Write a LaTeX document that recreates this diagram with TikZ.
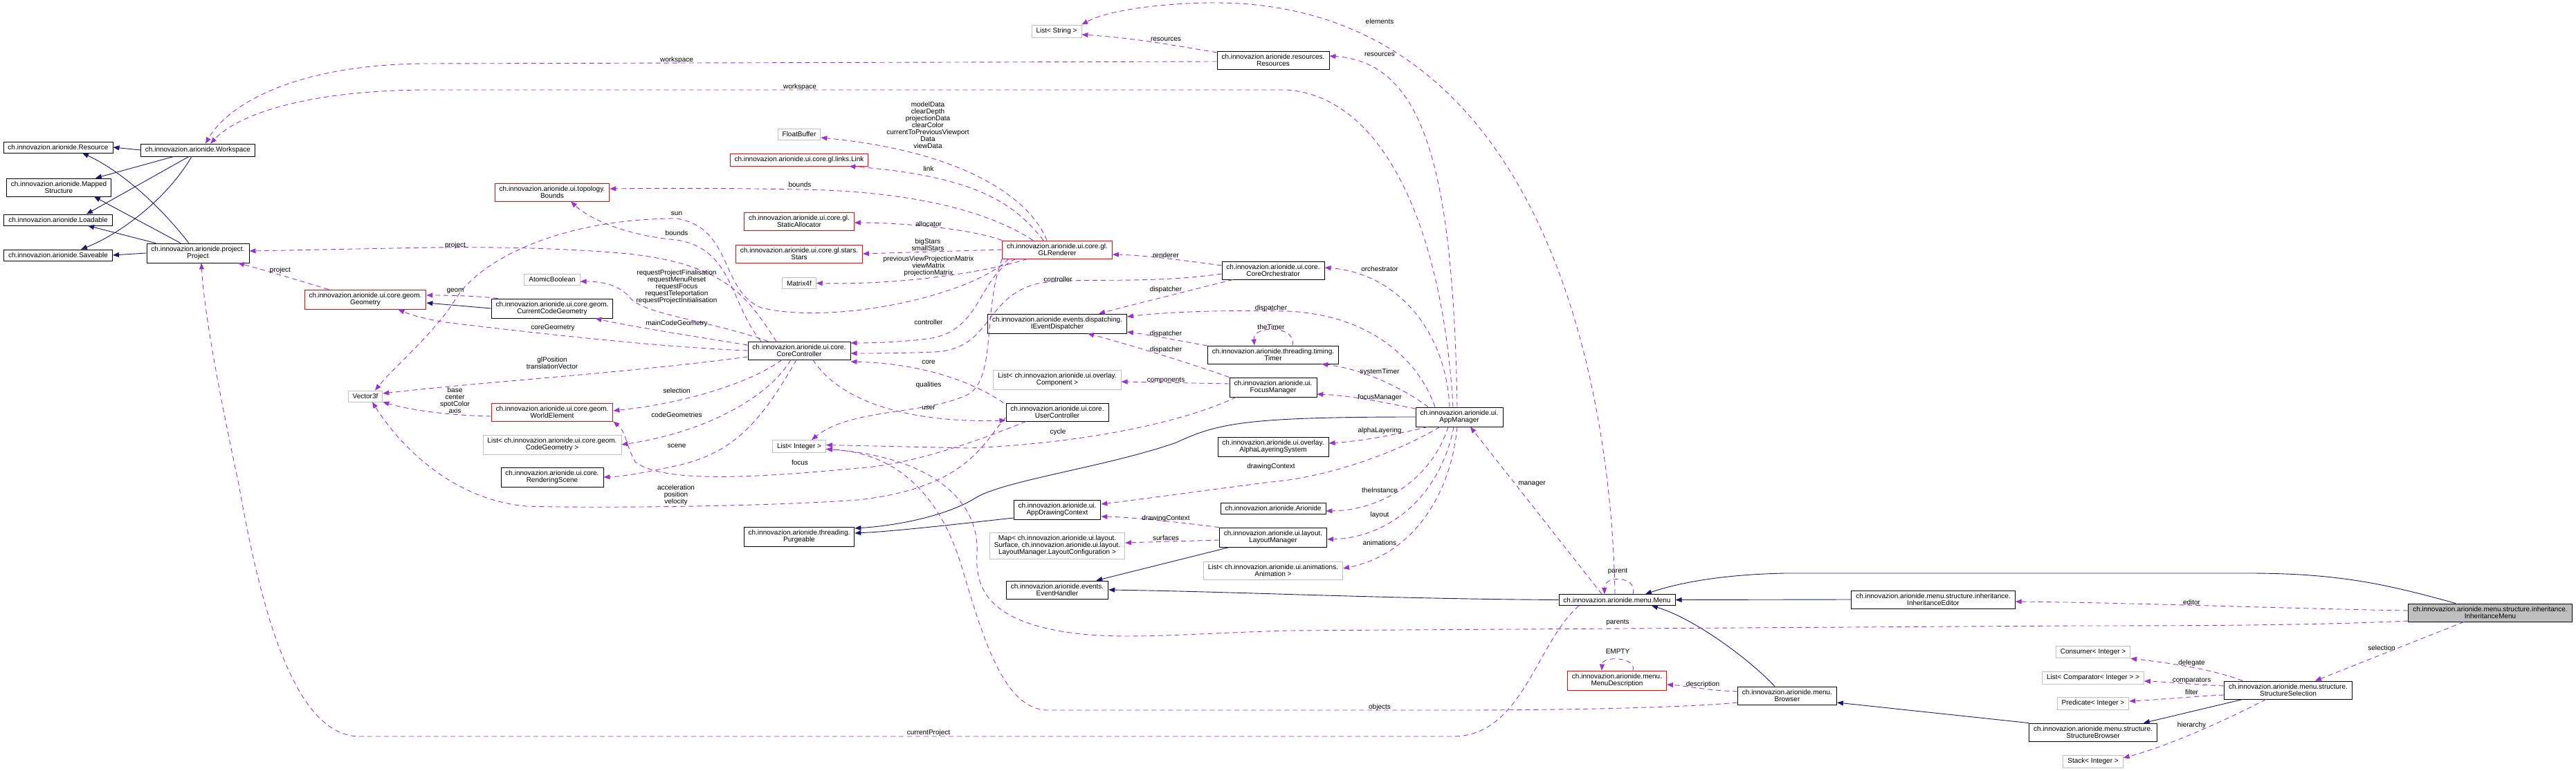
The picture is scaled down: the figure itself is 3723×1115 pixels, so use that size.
\documentclass[tikz,border=0pt]{standalone}
\usepackage{fontspec}
\setmainfont{Liberation Sans}
\usetikzlibrary{arrows.meta}
\definecolor{inhblue}{HTML}{191970}
\definecolor{usepurple}{HTML}{9A32CD}
\definecolor{extgray}{HTML}{BFBFBF}
\tikzset{
  cls/.style={draw=black, fill=white, line width=0.9pt, align=center, inner xsep=6.5pt, inner ysep=4.3pt, font=\fontsize{10}{10}\selectfont},
  redcls/.style={cls, draw=red},
  extcls/.style={cls, draw=extgray},
  curcls/.style={cls, fill=extgray},
  inh/.style={draw=inhblue, line width=0.9pt, -{Triangle[length=9pt,width=7pt]}},
  use/.style={draw=usepurple, line width=0.9pt, dash pattern=on 7pt off 5pt, -{Triangle[length=9pt,width=7pt]}},
  lbl/.style={align=center, inner sep=0pt, font=\fontsize{10}{10}\selectfont},
}

\begin{document}
\begin{tikzpicture}[x=1pt, y=-1pt]
  \useasboundingbox (0,0) rectangle (3723,1115);
  % --- left column ---
  \node[cls] (res) at (84,213) {ch.innovazion.arionide.Resource};
  \node[cls] (mapped) at (85,271) {ch.innovazion.arionide.Mapped\\Structure};
  \node[cls] (loadable) at (84,318) {ch.innovazion.arionide.Loadable};
  \node[cls] (saveable) at (84,369) {ch.innovazion.arionide.Saveable};
  \node[cls] (workspace) at (286,217) {ch.innovazion.arionide.Workspace};
  \node[cls] (project) at (286,366) {ch.innovazion.arionide.project.\\Project};
  \node[redcls] (geometry) at (528,433) {ch.innovazion.arionide.ui.core.geom.\\Geometry};
  \node[extcls] (vector) at (528,573) {Vector3f};
  % --- geometry column ---
  \node[redcls] (bounds) at (798,278) {ch.innovazion.arionide.ui.topology.\\Bounds};
  \node[extcls] (atomic) at (798,404) {AtomicBoolean};
  \node[cls] (curgeom) at (798,446) {ch.innovazion.arionide.ui.core.geom.\\CurrentCodeGeometry};
  \node[redcls] (worldel) at (798,596) {ch.innovazion.arionide.ui.core.geom.\\WorldElement};
  \node[extcls] (codegeoms) at (798,643) {List< ch.innovazion.arionide.ui.core.geom.\\CodeGeometry >};
  \node[cls] (scene) at (798,690) {ch.innovazion.arionide.ui.core.\\RenderingScene};
  % --- core column ---
  \node[extcls] (floatbuf) at (1155,194) {FloatBuffer};
  \node[redcls] (link) at (1155,231) {ch.innovazion.arionide.ui.core.gl.links.Link};
  \node[redcls] (staticalloc) at (1155,320) {ch.innovazion.arionide.ui.core.gl.\\StaticAllocator};
  \node[redcls] (stars) at (1155,367) {ch.innovazion.arionide.ui.core.gl.stars.\\Stars};
  \node[extcls] (matrix) at (1155,409.5) {Matrix4f};
  \node[cls] (corectrl) at (1155,507) {ch.innovazion.arionide.ui.core.\\CoreController};
  \node[extcls] (intlist) at (1155,645.5) {List< Integer >};
  \node[cls] (purgeable) at (1155,776) {ch.innovazion.arionide.threading.\\Purgeable};
  % --- renderer column ---
  \node[extcls] (strlist) at (1527,45) {List< String >};
  \node[redcls] (glrend) at (1528,361) {ch.innovazion.arionide.ui.core.gl.\\GLRenderer};
  \node[cls] (dispatcher) at (1528,468) {ch.innovazion.arionide.events.dispatching.\\IEventDispatcher};
  \node[extcls] (complist) at (1528,549) {List< ch.innovazion.arionide.ui.overlay.\\Component >};
  \node[cls] (userctrl) at (1528,596) {ch.innovazion.arionide.ui.core.\\UserController};
  \node[cls] (drawctx) at (1528,737) {ch.innovazion.arionide.ui.\\AppDrawingContext};
  \node[extcls] (surfmap) at (1528,789) {Map< ch.innovazion.arionide.ui.layout.\\Surface, ch.innovazion.arionide.ui.layout.\\LayoutManager.LayoutConfiguration >};
  \node[cls] (evhandler) at (1528,853) {ch.innovazion.arionide.events.\\EventHandler};
  % --- manager column ---
  \node[cls] (resources) at (1840,87) {ch.innovazion.arionide.resources.\\Resources};
  \node[cls] (orchestr) at (1840,391) {ch.innovazion.arionide.ui.core.\\CoreOrchestrator};
  \node[cls] (timer) at (1840,513) {ch.innovazion.arionide.threading.timing.\\Timer};
  \node[cls] (focusmgr) at (1840,560) {ch.innovazion.arionide.ui.\\FocusManager};
  \node[cls] (alphasys) at (1840,646) {ch.innovazion.arionide.ui.overlay.\\AlphaLayeringSystem};
  \node[cls] (arionide) at (1840,735) {ch.innovazion.arionide.Arionide};
  \node[cls] (layoutmgr) at (1840,777) {ch.innovazion.arionide.ui.layout.\\LayoutManager};
  \node[extcls] (animlist) at (1840,825) {List< ch.innovazion.arionide.ui.animations.\\Animation >};
  \node[cls] (appmgr) at (2109,603) {ch.innovazion.arionide.ui.\\AppManager};
  % --- menu column ---
  \node[cls] (menu) at (2337,867.5) {ch.innovazion.arionide.menu.Menu};
  \node[redcls] (menudesc) at (2337,984) {ch.innovazion.arionide.menu.\\MenuDescription};
  \node[cls] (browser) at (2583,1006) {ch.innovazion.arionide.menu.\\Browser};
  \node[cls] (inhedit) at (2794,867) {ch.innovazion.arionide.menu.structure.inheritance.\\InheritanceEditor};
  \node[extcls] (consumer) at (3025,943) {Consumer< Integer >};
  \node[extcls] (complist2) at (3025,980) {List< Comparator< Integer > >};
  \node[extcls] (predicate) at (3025,1017) {Predicate< Integer >};
  \node[cls] (strbrowser) at (3025,1059) {ch.innovazion.arionide.menu.structure.\\StructureBrowser};
  \node[extcls] (stack) at (3025,1101) {Stack< Integer >};
  \node[cls] (strsel) at (3307,998) {ch.innovazion.arionide.menu.structure.\\StructureSelection};
  \node[curcls] (inhmenu) at (3599,886) {ch.innovazion.arionide.menu.structure.inheritance.\\InheritanceMenu};

  % --- inheritance ---
  \draw[inh] (workspace.west) -- (res.east);
  \draw[inh] ([xshift=-35pt]workspace.south) -- ([xshift=53pt]mapped.north);
  \draw[inh] ([xshift=-13pt]workspace.south) -- ([xshift=41pt]loadable.north);
  \draw[inh] ([xshift=-9pt]workspace.south) .. controls (240,290) and (170,340) .. ([xshift=33pt]saveable.north);
  \draw[inh] ([xshift=-13pt]project.north) .. controls (225,290) and (170,245) .. ([xshift=35pt]res.south);
  \draw[inh] ([xshift=-25pt]project.north) -- ([xshift=51pt]mapped.south);
  \draw[inh] ([xshift=-61pt]project.north) -- ([xshift=43pt]loadable.south);
  \draw[inh] (project.west) -- (saveable.east);
  \draw[inh] (curgeom.west) -- ([yshift=-5pt]geometry.east);
  \draw[inh] (appmgr.west) .. controls (1800,603) and (1760,612) .. (1700,640) .. controls (1600,675) and (1450,695) .. (1410,720) .. controls (1370,745) and (1300,760) .. ([yshift=12pt]purgeable.east);
  \draw[inh] ([yshift=-12pt]drawctx.west) .. controls (1400,756) and (1300,768) .. ([yshift=5pt]purgeable.east);
  \draw[inh] ([xshift=15pt]layoutmgr.south west) -- ([xshift=-18pt]evhandler.north east);
  \draw[inh] (menu.west) .. controls (2000,866) and (1800,856) .. (evhandler.east);
  \draw[inh] (inhedit.west) -- (menu.east);
  \draw[inh] ([xshift=-50pt]inhmenu.north) .. controls (3450,845) and (3380,829) .. (3250,829) -- (2580,829) .. controls (2480,831) and (2420,845) .. ([xshift=41pt]menu.north);
  \draw[inh] ([xshift=-18pt]browser.north) .. controls (2530,955) and (2450,895) .. ([xshift=50pt]menu.south);
  \draw[inh] (strbrowser.north west) -- ([yshift=-10pt]browser.east);
  \draw[inh] ([xshift=27pt]strsel.south west) -- ([xshift=-20pt]strbrowser.north east);

  % --- members: workspace, resources ---
  \draw[use] ([yshift=-2pt]resources.west) -- (620,92) .. controls (430,92) and (330,150) .. ([xshift=11pt]workspace.north);
  \draw[use] ([xshift=-9pt]appmgr.north) .. controls (2085,330) and (2000,140) .. (1860,130) -- (620,130) .. controls (460,130) and (350,160) .. ([xshift=18pt]workspace.north);
  \draw[use] ([xshift=-3pt]menu.north) .. controls (2330,600) and (2250,8) .. (1760,4) .. controls (1680,4) and (1600,15) .. (strlist.north east);
  \draw[use] ([yshift=11pt]resources.west) .. controls (1700,66) and (1640,55) .. ([yshift=-5pt]strlist.east);
  \draw[use] ([xshift=-3pt]appmgr.north) .. controls (2100,250) and (2060,90) .. ([yshift=6pt]resources.east);
  \node[lbl] (lbWsA) at (978,87) {workspace};
  \node[lbl] (lbWsB) at (1156,126) {workspace};
  \node[lbl] (lbElements) at (1994,31) {elements};
  \node[lbl] (lbResA) at (1685,57) {resources};
  \node[lbl] (lbResB) at (1994,79) {resources};

  % --- members: renderer ---
  \draw[use] ([xshift=-15pt]glrend.north) .. controls (1490,290) and (1400,220) .. ([yshift=-5pt]floatbuf.east);
  \draw[use] ([xshift=-20pt]glrend.north) .. controls (1470,300) and (1420,255) .. ([xshift=-28pt]link.south east);
  \draw[use] ([xshift=-35pt]glrend.north) .. controls (1420,300) and (1300,276) .. (1156,274) .. controls (1050,272) and (950,272) .. ([yshift=5pt]bounds.east);
  \draw[use] (glrend.north west) .. controls (1400,330) and (1300,322) .. ([yshift=-2pt]staticalloc.east);
  \draw[use] (glrend.west) -- (stars.east);
  \draw[use] ([xshift=-43pt]glrend.south) .. controls (1420,395) and (1300,412) .. (matrix.east);
  \draw[use] ([xshift=-70pt]glrend.south) .. controls (1400,430) and (1200,470) .. (1100,445) .. controls (1040,420) and (1060,330) .. (978,316) .. controls (820,316) and (700,370) .. (660,430) .. controls (630,480) and (570,530) .. ([xshift=14pt]vector.north);
  \draw[use] ([xshift=-60pt]glrend.south) .. controls (1412,400) and (1420,480) .. (1340,490) .. controls (1300,495) and (1260,496) .. ([yshift=11pt]corectrl.east);
  \draw[use] (glrend.south west) .. controls (1420,450) and (1440,545) .. (1400,570) .. controls (1340,600) and (1230,590) .. ([xshift=18pt]intlist.north);
  \node[lbl] (lbModel) at (1341,181) {modelData\\clearDepth\\projectionData\\clearColor\\currentToPreviousViewport\\Data\\viewData};
  \node[lbl] (lbLink) at (1342,244) {link};
  \node[lbl] (lbBoundsA) at (1156,267) {bounds};
  \node[lbl] (lbAlloc) at (1342,323.6) {allocator};
  \node[lbl] (lbStars) at (1341,354) {bigStars\\smallStars};
  \node[lbl] (lbMatrix) at (1342,385) {previousViewProjectionMatrix\\viewMatrix\\projectionMatrix};
  \node[lbl] (lbSun) at (978,309) {sun};
  \node[lbl] (lbCtrlB) at (1342,466) {controller};
  \node[lbl] (lbQual) at (1342,557) {qualities};

  % --- members: core controller ---
  \draw[use] ([xshift=-55pt]corectrl.north) .. controls (1055,440) and (1060,360) .. (978,347) .. controls (900,340) and (850,315) .. ([xshift=27pt]bounds.south);
  \draw[use] ([xshift=-33pt]corectrl.north) .. controls (1080,430) and (1050,380) .. (897,366) .. controls (800,358) and (700,357) .. (620,358) -- ([yshift=3pt]project.east);
  \draw[use] ([xshift=-45pt]corectrl.north) .. controls (1020,462) and (930,455) .. (910,430) .. controls (895,412) and (870,407) .. ([yshift=-3pt]atomic.east);
  \draw[use] ([yshift=8pt]corectrl.west) .. controls (1000,486) and (900,470) .. ([xshift=-26pt]curgeom.south east);
  \draw[use] (corectrl.west) .. controls (950,502) and (760,480) .. (660,468) .. controls (630,465) and (600,458) .. ([xshift=-41pt]geometry.south east);
  \draw[use] ([xshift=10pt]curgeom.north west) .. controls (690,428) and (650,427) .. ([yshift=6pt]geometry.east);
  \draw[use] ([yshift=-9pt]corectrl.west) .. controls (900,540) and (700,552) .. ([yshift=4pt]vector.east);
  \draw[use] ([xshift=-25pt]corectrl.south) .. controls (1090,550) and (1000,582) .. ([yshift=2pt]worldel.east);
  \draw[use] ([xshift=-12pt]corectrl.south) .. controls (1110,575) and (1020,625) .. (codegeoms.east);
  \draw[use] ([xshift=-4pt]corectrl.south) .. controls (1100,610) and (1060,655) .. (980,673) .. controls (930,684) and (900,689) .. (scene.east);
  \draw[use] ([xshift=20pt]corectrl.south) .. controls (1210,575) and (1300,612) .. ([yshift=-12pt]userctrl.west);
  \draw[use] ([xshift=-3pt]userctrl.north west) .. controls (1410,555) and (1340,526) .. ([yshift=-16pt]corectrl.east);
  \draw[use] ([xshift=-53pt]geometry.north) .. controls (430,405) and (380,390) .. ([xshift=58pt]project.south);
  \draw[use] ([yshift=-6pt]worldel.west) .. controls (660,601) and (600,595) .. (vector.south east);
  \node[lbl] (lbBoundsB) at (978,337) {bounds};
  \node[lbl] (lbProjA) at (658,355) {project};
  \node[lbl] (lbProjB) at (405,391) {project};
  \node[lbl] (lbRequest) at (978,415) {requestProjectFinalisation\\requestMenuReset\\requestFocus\\requestTeleportation\\requestProjectInitialisation};
  \node[lbl] (lbGeom) at (658,421) {geom};
  \node[lbl] (lbMainGeom) at (978,468) {mainCodeGeometry};
  \node[lbl] (lbCoreGeom) at (799,474) {coreGeometry};
  \node[lbl] (lbGlPos) at (798,525) {glPosition\\translationVector};
  \node[lbl] (lbCore) at (1342,524) {core};
  \node[lbl] (lbSel) at (978,565) {selection};
  \node[lbl] (lbBase) at (657.5,579) {base\\center\\spotColor\\axis};
  \node[lbl] (lbUser) at (1342,590) {user};
  \node[lbl] (lbCodeGeoms) at (978,600) {codeGeometries};
  \node[lbl] (lbScene) at (978,645) {scene};

  % --- members: user controller, focus ---
  \draw[use] ([xshift=-45pt]userctrl.south) .. controls (1420,635) and (1320,672) .. (1240,677) .. controls (1100,690) and (960,700) .. (918,668) .. controls (905,645) and (905,625) .. (worldel.south east);
  \draw[use] ([yshift=-8pt]userctrl.west) .. controls (1420,640) and (1400,705) .. (1240,723) .. controls (1100,733) and (850,735) .. (760,732) .. controls (650,722) and (575,640) .. ([xshift=10pt]vector.south);
  \draw[use] ([xshift=10pt]focusmgr.south west) .. controls (1700,615) and (1550,642) .. (1400,648) -- ([yshift=2pt]intlist.east);
  \draw[use] ([yshift=5pt]focusmgr.west) -- ([yshift=-3pt]complist.east);
  \draw[use] (focusmgr.north west) .. controls (1720,525) and (1620,495) .. ([xshift=44pt]dispatcher.south);
  \node[lbl] (lbFocus) at (1156,668.5) {focus};
  \node[lbl] (lbAccel) at (977,716) {acceleration\\position\\velocity};
  \node[lbl] (lbCycle) at (1529,625) {cycle};
  \node[lbl] (lbComp) at (1685,550) {components};
  \node[lbl] (lbDispD) at (1685,506) {dispatcher};

  % --- members: orchestrator, timer ---
  \draw[use] ([yshift=7pt]orchestr.west) .. controls (1700,375) and (1650,369) .. ([yshift=-7pt]glrend.east);
  \draw[use] ([yshift=-5pt]orchestr.west) .. controls (1650,412) and (1560,400) .. (1500,410) .. controls (1420,430) and (1435,505) .. (1350,509) .. controls (1300,511) and (1260,511) .. ([yshift=-4pt]corectrl.east);
  \draw[use] ([xshift=-58pt]orchestr.south) .. controls (1720,420) and (1640,440) .. ([xshift=60pt]dispatcher.north);
  \draw[use] ([yshift=13pt]timer.west) .. controls (1700,492) and (1660,484) .. ([yshift=-12pt]dispatcher.east);
  \draw[use] ([xshift=28pt]timer.north) .. controls (1875,470) and (1810,470) .. ([xshift=-27pt]timer.north);
  \node[lbl] (lbRenderer) at (1685,369) {renderer};
  \node[lbl] (lbCtrlA) at (1529,404) {controller};
  \node[lbl] (lbDispA) at (1685,419) {dispatcher};
  \node[lbl] (lbDispC) at (1685,482.5) {dispatcher};
  \node[lbl] (lbTheTimer) at (1837,473) {theTimer};

  % --- members: app manager ---
  \draw[use] ([xshift=-14pt]appmgr.north) .. controls (2090,480) and (2020,395) .. ([yshift=4pt]orchestr.east);
  \draw[use] ([xshift=-35pt]appmgr.north) .. controls (2050,520) and (1980,455) .. (1860,450) .. controls (1750,448) and (1680,452) .. ([yshift=10pt]dispatcher.east);
  \draw[use] ([xshift=-45pt]appmgr.north) .. controls (2040,570) and (1980,535) .. ([xshift=-25pt]timer.south east);
  \draw[use] ([yshift=12pt]appmgr.west) .. controls (1990,580) and (1950,572) .. ([yshift=-10pt]focusmgr.east);
  \draw[use] ([xshift=-45pt]appmgr.south) .. controls (2030,625) and (1980,637) .. ([yshift=5pt]alphasys.east);
  \draw[use] ([xshift=-28pt]appmgr.south) .. controls (2000,665) and (1900,692) .. (1837,697) .. controls (1750,708) and (1650,722) .. ([yshift=8pt]drawctx.east);
  \draw[use] ([xshift=-16pt]appmgr.south) .. controls (2070,690) and (2000,738) .. ([yshift=-4pt]arionide.east);
  \draw[use] ([xshift=-8pt]appmgr.south) .. controls (2080,725) and (2000,778) .. ([yshift=-3pt]layoutmgr.east);
  \draw[use] ([xshift=-3pt]appmgr.south) .. controls (2095,730) and (2030,805) .. ([yshift=3pt]animlist.east);
  \draw[use] (layoutmgr.north west) .. controls (1700,755) and (1640,748) .. ([yshift=-10pt]drawctx.east);
  \draw[use] ([yshift=-4pt]layoutmgr.west) -- ([yshift=4pt]surfmap.east);
  \node[lbl] (lbOrch) at (1994,389) {orchestrator};
  \node[lbl] (lbDispB) at (1837,446) {dispatcher};
  \node[lbl] (lbSysTimer) at (1994,537.5) {systemTimer};
  \node[lbl] (lbFocusMgr) at (1994,575) {focusManager};
  \node[lbl] (lbAlpha) at (1994,622.5) {alphaLayering};
  \node[lbl] (lbDrawA) at (1837,675) {drawingContext};
  \node[lbl] (lbInstance) at (1994,708.6) {theInstance};
  \node[lbl] (lbLayout) at (1994,744.6) {layout};
  \node[lbl] (lbAnim) at (1994,785) {animations};
  \node[lbl] (lbDrawB) at (1685,750) {drawingContext};
  \node[lbl] (lbSurf) at (1685,777.5) {surfaces};

  % --- members: menus ---
  \draw[use] ([xshift=-22pt]menu.north) -- ([xshift=16pt]appmgr.south);
  \draw[use] ([xshift=23pt]menu.north) .. controls (2368,833) and (2318,831) .. ([xshift=-18pt]menu.north);
  \draw[use] ([xshift=-55pt]menu.south) .. controls (2220,930) and (2200,1065) .. (2100,1065) -- (520,1065) .. controls (430,1065) and (380,900) .. (345,700) .. controls (315,560) and (295,450) .. ([xshift=5pt]project.south);
  \draw[use] ([yshift=-12pt]inhmenu.west) .. controls (3350,904) and (3200,905) .. (3000,905) -- (1860,912) .. controls (1700,917) and (1620,926) .. (1540,914) .. controls (1440,898) and (1408,860) .. (1412,800) .. controls (1416,720) and (1340,660) .. ([yshift=-4pt]intlist.east);
  \draw[use] ([yshift=-10pt]browser.west) .. controls (2450,1022) and (2300,1027) .. (2100,1027) -- (1513,1027) .. controls (1450,1025) and (1420,920) .. (1390,820) .. controls (1360,720) and (1300,655) .. ([yshift=-4pt]intlist.east);
  \draw[use] ([yshift=6pt]browser.west) .. controls (2460,998) and (2440,992) .. ([yshift=-6pt]menudesc.east);
  \draw[use] ([xshift=23pt]menudesc.north) .. controls (2366,950) and (2316,948) .. ([xshift=-22pt]menudesc.north);
  \draw[use] ([yshift=3pt]inhmenu.west) .. controls (3300,880) and (3100,872) .. ([yshift=-3pt]inhedit.east);
  \draw[use] ([xshift=-38pt]inhmenu.south) -- ([xshift=39pt]strsel.north);
  \draw[use] ([xshift=-66pt]strsel.north) .. controls (3200,968) and (3130,958) .. (consumer.south east);
  \draw[use] ([yshift=6pt]strsel.west) .. controls (3170,990) and (3130,986) .. ([yshift=-5pt]complist2.east);
  \draw[use] ([yshift=-7pt]strsel.west) .. controls (3170,1007) and (3120,1012) .. ([yshift=3pt]predicate.east);
  \draw[use] ([xshift=-32pt]strsel.south) .. controls (3210,1045) and (3130,1080) .. ([yshift=5pt]stack.east);
  \node[lbl] (lbManager) at (2214,700) {manager};
  \node[lbl] (lbParent) at (2338,826) {parent};
  \node[lbl] (lbParents) at (2338,900) {parents};
  \node[lbl] (lbEmpty) at (2338,942) {EMPTY};
  \node[lbl] (lbDesc) at (2461,990) {description};
  \node[lbl] (lbObjects) at (1994,1022.5) {objects};
  \node[lbl] (lbCurProj) at (1342,1060) {currentProject};
  \node[lbl] (lbEditor) at (3167.5,871) {editor};
  \node[lbl] (lbSel2) at (3442,937) {selection};
  \node[lbl] (lbDelegate) at (3167.5,959) {delegate};
  \node[lbl] (lbComparators) at (3167.5,984) {comparators};
  \node[lbl] (lbFilter) at (3167.5,1001) {filter};
  \node[lbl] (lbHierarchy) at (3167.5,1049) {hierarchy};
\end{tikzpicture}
\end{document}
